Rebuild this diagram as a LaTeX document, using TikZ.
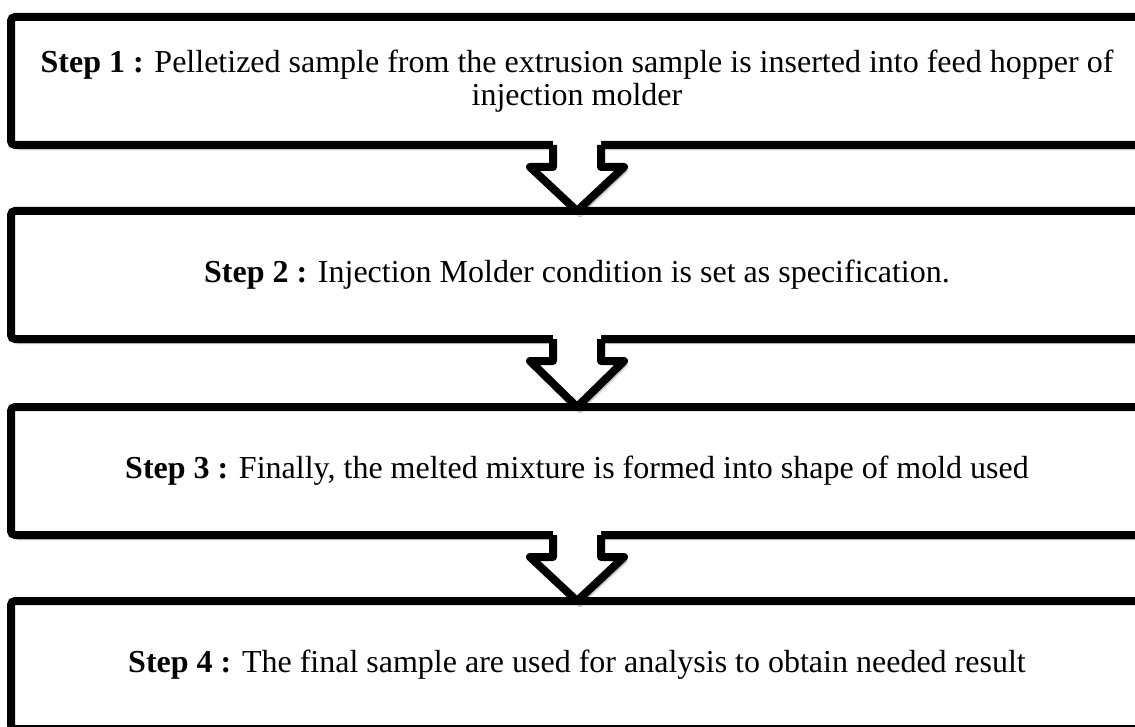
\documentclass[tikz,border=0pt]{standalone}
\usepackage{fontspec}
\setmainfont{Liberation Serif}
\usepackage{tikz}
\usetikzlibrary{calc, positioning, shadows.blur}

\tikzset{
  stepbox/.style={draw, line width=8pt, rounded corners=4pt, fill=white, inner sep=0, outer sep=0,
    minimum width=1132pt, minimum height=128pt, align=center,
    font=\fontsize{32}{33}\selectfont,
    blur shadow={shadow xshift=3pt, shadow yshift=-4pt, shadow blur steps=6, shadow opacity=40}},
  blockarrow/.style={line width=8pt, line join=round}
}

\begin{document}
\begin{tikzpicture}[x=1pt, y=-1pt]
  \useasboundingbox (0,0) rectangle (1135,727);
  \clip (0,0) rectangle (1135,727);

  \node[stepbox] (s1) at (577,81) {\textbf{Step 1 :} Pelletized sample from the extrusion sample is inserted into feed hopper of\\ injection molder};
  \node[stepbox, below=66pt of s1] (s2) {\textbf{Step 2 :} Injection Molder condition is set as specification.};
  \node[stepbox, below=68pt of s2] (s3) {\textbf{Step 3 :} Finally, the melted mixture is formed into shape of mold used};
  \node[stepbox, below=66pt of s3] (s4) {\textbf{Step 4 :} The final sample are used for analysis to obtain needed result};

  % block arrows between the steps
  \foreach \a/\b in {s1/s2, s2/s3, s3/s4} {
    \fill[white, blur shadow={shadow xshift=3pt, shadow yshift=-4pt, shadow blur steps=6, shadow opacity=40}]
      ($(\a.south)+(-24,-5)$) -- ($(\a.south)+(-24,22)$) -- ($(\a.south)+(-47,22)$) -- (\b.north)
      -- ($(\a.south)+(47,22)$) -- ($(\a.south)+(24,22)$) -- ($(\a.south)+(24,-5)$) -- cycle;
    \draw[blockarrow] ($(\a.south)+(-24,0)$) -- ($(\a.south)+(-24,22)$) -- ($(\a.south)+(-47,22)$) -- (\b.north)
      -- ($(\a.south)+(47,22)$) -- ($(\a.south)+(24,22)$) -- ($(\a.south)+(24,0)$);
  }
\end{tikzpicture}
\end{document}
